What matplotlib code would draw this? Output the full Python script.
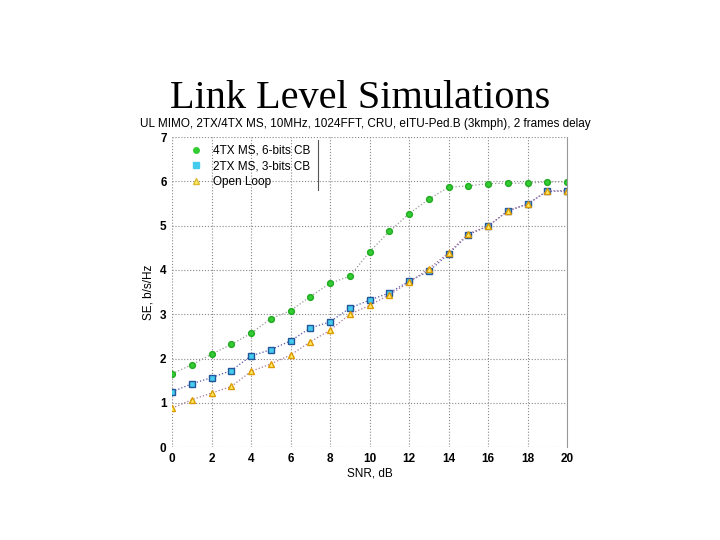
import numpy as np
import matplotlib.pyplot as plt
from matplotlib.lines import Line2D

snr = list(range(0, 21))
se_4tx = [1.66, 1.86, 2.10, 2.32, 2.57, 2.90, 3.08, 3.40, 3.70, 3.86, 4.41,
          4.87, 5.27, 5.60, 5.87, 5.90, 5.95, 5.96, 5.96, 5.99, 5.99]
se_2tx = [1.25, 1.43, 1.57, 1.73, 2.06, 2.20, 2.40, 2.69, 2.83, 3.14, 3.32,
          3.48, 3.75, 3.97, 4.36, 4.80, 4.99, 5.33, 5.49, 5.78, 5.78]
se_ol = [0.88, 1.07, 1.22, 1.37, 1.71, 1.88, 2.08, 2.38, 2.64, 3.00, 3.20,
         3.44, 3.72, 4.03, 4.39, 4.82, 4.99, 5.34, 5.49, 5.79, 5.79]
labels = ['4TX MS, 6-bits CB', '2TX MS, 3-bits CB', 'Open Loop']

fig = plt.figure(figsize=(7.2, 5.4), dpi=100)
ax = fig.add_axes([0.239, 0.172, 0.5485, 0.574])

ax.plot(snr, se_4tx, linestyle=':', color='#999999', linewidth=0.9,
        marker='o', markersize=4.2, markerfacecolor='#33cc33', markeredgecolor='#22aa22')
ax.plot(snr, se_2tx, linestyle=':', color='#5555aa', linewidth=0.9,
        marker='s', markersize=4, markerfacecolor='#44ccee', markeredgecolor='#225599')
ax.plot(snr, se_ol, linestyle=':', color='#aa7799', linewidth=0.9,
        marker='^', markersize=5, markerfacecolor='#ffee66', markeredgecolor='#dd9900')

ax.set_xlim(0, 20)
ax.set_ylim(0, 7)
ax.set_xticks(range(0, 21, 2))
ax.set_yticks(range(0, 8))
ax.grid(True, linestyle=':', color='#888888', linewidth=0.8)
for s in ['top', 'left', 'bottom']:
    ax.spines[s].set_visible(False)
ax.spines['right'].set_color('#999999')
ax.tick_params(length=0, labelsize=8.5, pad=4)
for t in ax.get_xticklabels() + ax.get_yticklabels():
    t.set_fontweight('bold')
    t.set_family('Liberation Sans')

ax.set_xlabel('SNR, dB', fontsize=8.5, family='Liberation Sans', labelpad=2)
ax.set_ylabel('SE, b/s/Hz', fontsize=8.5, family='Liberation Sans', labelpad=4)

# legend drawn by hand inside the plot
handles = [
    Line2D([], [], linestyle='none', marker='o', markersize=4,
           markerfacecolor='#33cc33', markeredgecolor='#33cc33'),
    Line2D([], [], linestyle='none', marker='s', markersize=4,
           markerfacecolor='#44ccee', markeredgecolor='#44ccee'),
    Line2D([], [], linestyle='none', marker='^', markersize=4,
           markerfacecolor='#ffee66', markeredgecolor='#ddbb33'),
]
leg = ax.legend(handles, labels, loc='upper left', bbox_to_anchor=(0.015, 1.01),
                frameon=False, handlelength=1.2, handletextpad=0.9, labelspacing=0.33,
                prop={'family': 'Liberation Sans', 'size': 8.5})
ax.plot([0.369, 0.369], [0.83, 0.99], transform=ax.transAxes, color='#555555',
        linewidth=0.8, clip_on=False)

fig.text(0.5, 0.8, 'Link Level Simulations', ha='center', va='baseline',
         fontsize=29, family='Liberation Serif')
fig.text(0.507, 0.765, 'UL MIMO, 2TX/4TX MS, 10MHz, 1024FFT, CRU, eITU-Ped.B (3kmph), 2 frames delay',
         ha='center', va='baseline', fontsize=8.5, family='Liberation Sans')

fig.savefig('out.png', dpi=100)
